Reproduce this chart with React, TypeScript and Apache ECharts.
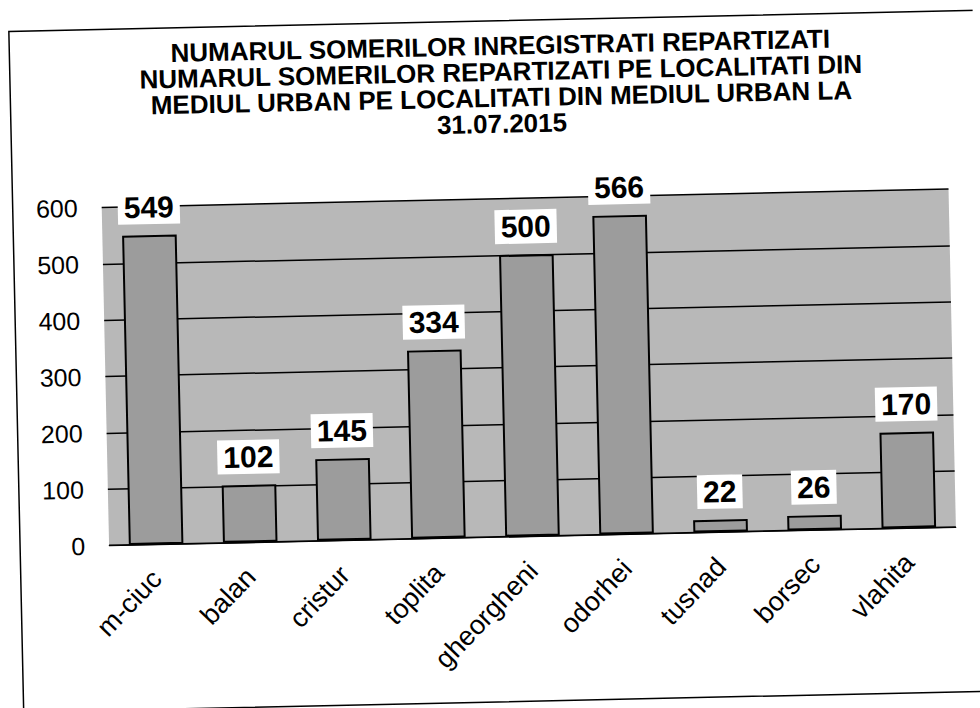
import React, { useEffect, useRef } from "react";
import * as echarts from "echarts";

const categories = ["m-ciuc", "balan", "cristur", "toplita", "gheorgheni", "odorhei", "tusnad", "borsec", "vlahita"];
const values = [549, 102, 145, 334, 500, 566, 22, 26, 170];
const titleLines = [
  "NUMARUL SOMERILOR INREGISTRATI REPARTIZATI",
  "NUMARUL SOMERILOR REPARTIZATI PE LOCALITATI DIN",
  "MEDIUL URBAN PE LOCALITATI DIN MEDIUL URBAN LA",
  "31.07.2015",
];
const yMin = 0;
const yMax = 600;
const yInterval = 100;

const FONT = "'Liberation Sans', Arial, sans-serif";

export default function App() {
  const ref = useRef<HTMLDivElement>(null);
  useEffect(() => {
    if (!ref.current) return;
    const chart = echarts.init(ref.current, null, { renderer: "svg" });
    chart.setOption({
      animation: false,
      backgroundColor: "#ffffff",
      textStyle: { fontFamily: FONT },
      graphic: [
        {
          type: "rect",
          shape: { x: 16, y: 21, width: 990, height: 681 },
          style: { fill: "none", stroke: "#000", lineWidth: 1.5 },
          z: 10,
        },
        {
          type: "text",
          x: 507,
          y: 33,
          style: {
            text: titleLines.join("\n"),
            textAlign: "center",
            textVerticalAlign: "top",
            font: `bold 26px ${FONT}`,
            lineHeight: 26,
            fill: "#000",
          },
          z: 10,
        },
      ],
      grid: {
        left: 105,
        right: 28,
        top: 199,
        bottom: 171,
        show: true,
        backgroundColor: "#b8b8b8",
        borderWidth: 0,
      },
      xAxis: {
        type: "category",
        data: categories,
        axisLine: { show: true, lineStyle: { color: "#000", width: 1 } },
        axisTick: { show: false },
        axisLabel: {
          interval: 0,
          rotate: 45,
          margin: 30,
          fontSize: 27,
          color: "#000",
          fontFamily: FONT,
        },
      },
      yAxis: {
        type: "value",
        min: yMin,
        max: yMax,
        interval: yInterval,
        axisLine: { show: false },
        axisTick: { show: false },
        axisLabel: { fontSize: 25, color: "#000", margin: 24, fontFamily: FONT },
        splitLine: { show: true, lineStyle: { color: "#000", width: 1.5 } },
      },
      series: [
        {
          type: "bar",
          data: values,
          barWidth: "58%",
          itemStyle: { color: "#9c9c9c", borderColor: "#000", borderWidth: 2 },
          label: {
            show: true,
            position: "top",
            distance: 11,
            backgroundColor: "#ffffff",
            padding: [2, 6],
            fontSize: 30,
            fontWeight: "bold",
            color: "#000",
            fontFamily: FONT,
          },
        },
      ],
    });
    return () => chart.dispose();
  }, []);
  return (
    <div
      style={{
        position: "fixed",
        left: 0,
        top: 0,
        width: 980,
        height: 708,
        background: "#fff",
        overflow: "hidden",
      }}
    >
      <div
        ref={ref}
        style={{ width: 980, height: 708, transform: "rotate(-1.25deg)", transformOrigin: "50% 50%" }}
      />
    </div>
  );
}
